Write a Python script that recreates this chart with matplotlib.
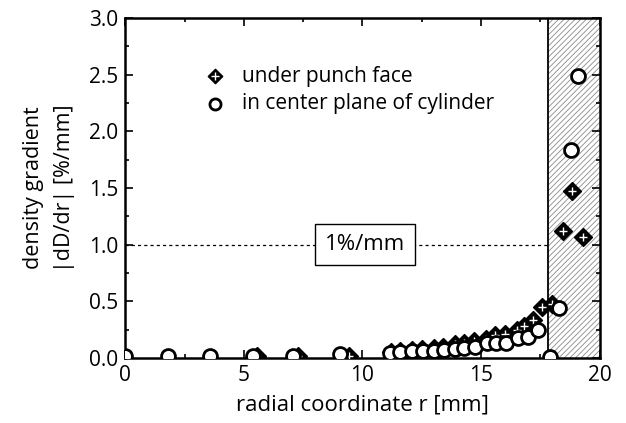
import matplotlib
matplotlib.use("Agg")
import matplotlib.pyplot as plt
from matplotlib.legend_handler import HandlerTuple
from matplotlib.ticker import MultipleLocator
import matplotlib.patches as mpatches

plt.rcParams['font.family'] = ['Open Sans', 'DejaVu Sans']
plt.rcParams['hatch.linewidth'] = 0.6

# under punch face (diamonds)
punch_r = [5.55, 7.3, 9.45, 11.2, 11.6, 12.1, 12.5, 13.0, 13.4, 13.9, 14.3, 14.7,
           15.2, 15.6, 16.0, 16.5, 16.8, 17.2, 17.55, 18.0, 18.45, 18.85, 19.3]
punch_g = [0.02, 0.02, 0.02, 0.05, 0.06, 0.07, 0.08, 0.09, 0.10, 0.12, 0.13, 0.15,
           0.17, 0.20, 0.21, 0.25, 0.28, 0.33, 0.45, 0.48, 1.12, 1.47, 1.07]

# in center plane of cylinder (circles)
center_r = [0.0, 1.82, 3.58, 5.4, 7.08, 9.05, 11.16, 11.58, 12.07, 12.55, 13.0, 13.43,
            13.9, 14.3, 14.74, 15.23, 15.62, 16.07, 16.55, 16.97, 17.4, 17.9, 18.3,
            18.8, 19.1]
center_g = [0.02, 0.02, 0.02, 0.02, 0.02, 0.03, 0.047, 0.05, 0.06, 0.06, 0.06, 0.07,
            0.08, 0.09, 0.10, 0.127, 0.13, 0.135, 0.177, 0.18, 0.25, 0.01, 0.44,
            1.84, 2.49]

zone_start = 17.8
x_ticks = [0, 5, 10, 15, 20]
y_ticks = [0.0, 0.5, 1.0, 1.5, 2.0, 2.5, 3.0]

fig = plt.figure(figsize=(6.26, 4.23), dpi=100)
ax = fig.add_axes([0.2, 0.154, 0.758, 0.803])

ax.add_patch(mpatches.Rectangle((zone_start, 0), 20 - zone_start, 3.0,
                                facecolor='white', edgecolor='#8a8a8a',
                                hatch='//////', lw=0, zorder=1))
ax.axvline(zone_start, color='black', lw=1.3, zorder=2)
ax.plot([0, zone_start], [1.0, 1.0], color='black', lw=0.9, ls=(0, (2.5, 2.5)), zorder=2)
ax.text(10.1, 1.0, '1%/mm', fontsize=16, ha='center', va='center', zorder=3,
        bbox=dict(boxstyle='square,pad=0.45', facecolor='white', edgecolor='black', lw=1.0))

d1 = ax.scatter(punch_r, punch_g, marker='D', s=80, facecolor='black',
                edgecolor='black', linewidth=1.2, zorder=4)
d2 = ax.scatter(punch_r, punch_g, marker='+', s=40, color='white',
                linewidth=1.0, zorder=5)
c = ax.scatter(center_r, center_g, marker='o', s=100, facecolor='white',
               edgecolor='black', linewidth=2.0, zorder=6)

ax.legend([(d1, d2), c], ['under punch face', 'in center plane of cylinder'],
          handler_map={tuple: HandlerTuple(ndivide=1, pad=0)},
          loc='upper left', bbox_to_anchor=(0.128, 0.915), frameon=False,
          fontsize=15, handletextpad=0.8, labelspacing=0.3, handlelength=1.0,
          markerscale=0.8)

ax.set_xlim(0, 20)
ax.set_ylim(0, 3.0)
ax.set_xticks(x_ticks)
ax.set_yticks(y_ticks)
ax.set_yticklabels([f'{v:.1f}' for v in y_ticks])
ax.xaxis.set_minor_locator(MultipleLocator(2.5))
ax.yaxis.set_minor_locator(MultipleLocator(0.25))
ax.tick_params(which='both', direction='in', top=True, right=True, labelsize=15,
               width=1.2)
ax.tick_params(which='major', length=6, pad=5)
ax.tick_params(which='minor', length=3)
for s in ax.spines.values():
    s.set_linewidth(1.8)

ax.set_xlabel('radial coordinate r [mm]', fontsize=16, labelpad=6)
ax.set_ylabel('density gradient\n|dD/dr| [%/mm]', fontsize=15.5, labelpad=10,
              linespacing=1.65)

fig.savefig('out.png', dpi=100)
